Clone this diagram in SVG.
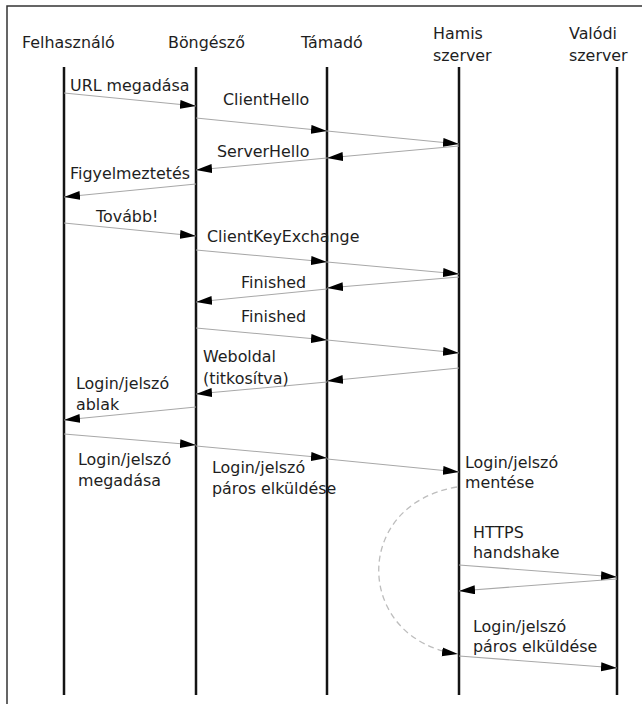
<svg xmlns="http://www.w3.org/2000/svg" width="642" height="704" viewBox="0 0 642 704">
<style>
text{font-family:"DejaVu Sans","Liberation Sans",sans-serif;font-size:15.9px;fill:#1e1e1e}
.life{stroke:#141414;stroke-width:2.5;fill:none}
.msg{stroke:#a8a8a8;stroke-width:1.1;fill:none;marker-end:url(#ah)}
.dash{stroke:#bdbdbd;stroke-width:1.3;fill:none;stroke-dasharray:6 4;marker-end:url(#ah)}
.frame{stroke:#333;stroke-width:1.5;fill:none}
</style>
<defs>
<marker id="ah" markerUnits="userSpaceOnUse" markerWidth="17" markerHeight="10" refX="16" refY="4.5" orient="auto">
<path d="M0,0 L16,4.5 L0,9 z" fill="#000"/>
</marker>
</defs>
<rect width="642" height="704" fill="#fff"/>
<path class="frame" d="M7,704 V6 H642"/>
<g id="felhasznalo">
<text x="22" y="48">Felhasználó</text>
<line class="life" x1="64" y1="67" x2="64" y2="695"/>
</g>
<g id="bongeszo">
<text x="168" y="48">Böngésző</text>
<line class="life" x1="196" y1="67" x2="196" y2="695"/>
</g>
<g id="tamado">
<text x="301" y="48">Támadó</text>
<line class="life" x1="327" y1="67" x2="327" y2="695"/>
</g>
<g id="hamis">
<text x="433" y="39">Hamis</text>
<text x="433" y="61">szerver</text>
<line class="life" x1="459" y1="67" x2="459" y2="695"/>
</g>
<g id="valodi">
<text x="569" y="39">Valódi</text>
<text x="569" y="61">szerver</text>
<line class="life" x1="617" y1="67" x2="617" y2="695"/>
</g>
<g id="connectors">
<line class="msg" x1="64" y1="93" x2="196" y2="106"/>
<line class="msg" x1="196" y1="118" x2="327" y2="131"/>
<line class="msg" x1="327" y1="131" x2="459" y2="144"/>
<line class="msg" x1="459" y1="146" x2="327" y2="158"/>
<line class="msg" x1="327" y1="158" x2="196" y2="170"/>
<line class="msg" x1="196" y1="184" x2="64" y2="197"/>
<line class="msg" x1="64" y1="223" x2="196" y2="236"/>
<line class="msg" x1="196" y1="250" x2="327" y2="262"/>
<line class="msg" x1="327" y1="262" x2="459" y2="274"/>
<line class="msg" x1="459" y1="277" x2="327" y2="288"/>
<line class="msg" x1="327" y1="289" x2="196" y2="302"/>
<line class="msg" x1="196" y1="328" x2="327" y2="340"/>
<line class="msg" x1="327" y1="340" x2="459" y2="353"/>
<line class="msg" x1="459" y1="368" x2="327" y2="381"/>
<line class="msg" x1="327" y1="382" x2="196" y2="394"/>
<line class="msg" x1="196" y1="407" x2="64" y2="420"/>
<line class="msg" x1="64" y1="434" x2="196" y2="445"/>
<line class="msg" x1="196" y1="446" x2="327" y2="458"/>
<line class="msg" x1="327" y1="459" x2="459" y2="472"/>
<path class="dash" d="M457,487 C350,505 355,640 458,654"/>
<line class="msg" x1="459" y1="565" x2="617" y2="577"/>
<line class="msg" x1="617" y1="579" x2="459" y2="591"/>
<line class="msg" x1="459" y1="656" x2="617" y2="668"/>
</g>
<g id="labels">
<text x="70" y="91">URL megadása</text>
<text x="223" y="105">ClientHello</text>
<text x="217" y="157">ServerHello</text>
<text x="70" y="179">Figyelmeztetés</text>
<text x="96" y="222">Tovább!</text>
<text x="207" y="242">ClientKeyExchange</text>
<text x="241" y="288">Finished</text>
<text x="241" y="322">Finished</text>
<text x="203" y="362">Weboldal</text>
<text x="203" y="384">(titkosítva)</text>
<text x="76" y="389">Login/jelszó</text>
<text x="76" y="410">ablak</text>
<text x="78" y="465">Login/jelszó</text>
<text x="78" y="486">megadása</text>
<text x="212" y="473">Login/jelszó</text>
<text x="212" y="494">páros elküldése</text>
<text x="465" y="468">Login/jelszó</text>
<text x="465" y="488">mentése</text>
<text x="473" y="538">HTTPS</text>
<text x="473" y="558">handshake</text>
<text x="473" y="632">Login/jelszó</text>
<text x="473" y="652">páros elküldése</text>
</g>
</svg>
